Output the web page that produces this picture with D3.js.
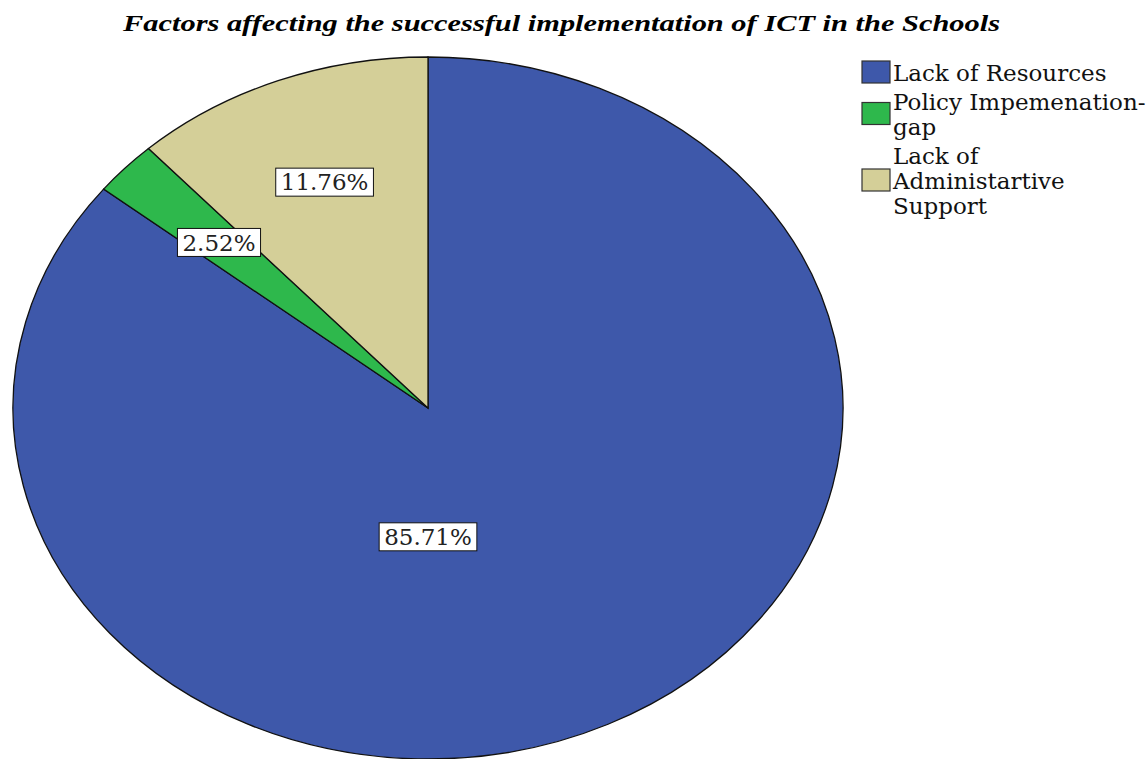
<!DOCTYPE html>
<html>
<head>
<meta charset="utf-8">
<script src="https://cdn.jsdelivr.net/npm/d3@7"></script>
<style>
body { margin: 0; background: #fff; }
svg { display: block; }
</style>
</head>
<body>
<svg></svg>
<script>
var screen = {width: 1146, height: 759};

// data
var categories = ["Lack of Resources", "Policy Impemenation-gap", "Lack of Administartive Support"];
var percents = [85.71, 2.52, 11.76];
var legendLines = [["Lack of Resources"], ["Policy Impemenation-", "gap"], ["Lack of", "Administartive", "Support"]];
var colors = ["#3e58aa", "#2eb84c", "#d4cf98"];
var title = "Factors affecting the successful implementation of ICT in the Schools";

var pie = {cx: 428, cy: 408, rx: 415, ry: 351};
var font = "'DejaVu Serif', serif";
var titleFont = "'Liberation Serif', 'DejaVu Serif', serif";

var svg = d3.select("svg")
    .attr("width", screen.width)
    .attr("height", screen.height);

svg.append("text")
    .attr("x", 123)
    .attr("y", 31)
    .attr("textLength", 877)
    .attr("lengthAdjust", "spacingAndGlyphs")
    .attr("font-family", titleFont)
    .attr("font-weight", "bold")
    .attr("font-style", "italic")
    .attr("font-size", 23)
    .text(title);

var cScale = d3.scaleOrdinal().domain(categories).range(colors);

var arcs = d3.pie().sort(null).value(function(d) { return d; })(percents);
var arcGen = d3.arc().innerRadius(0).outerRadius(pie.ry);

// pie is drawn on a circle and stretched into an ellipse
var g = svg.append("g")
    .attr("transform", "translate(" + pie.cx + "," + pie.cy + ") scale(" + (pie.rx / pie.ry) + ",1)");

g.selectAll("path")
    .data(arcs)
    .enter()
    .append("path")
    .attr("d", arcGen)
    .attr("fill", function(d, i) { return cScale(categories[i]); })
    .attr("stroke", "#111")
    .attr("stroke-width", 1.3)
    .attr("vector-effect", "non-scaling-stroke");

// labels
var labelPos = function(d) {
    var a, f;
    if (d.endAngle - d.startAngle > Math.PI) { a = Math.PI; f = 0.367; }
    else { a = (d.startAngle + d.endAngle) / 2; f = 0.69; }
    return [pie.cx + Math.sin(a) * f * pie.rx, pie.cy - Math.cos(a) * f * pie.ry];
};

var labels = svg.append("g").selectAll("g")
    .data(arcs)
    .enter()
    .append("g")
    .attr("transform", function(d) { var p = labelPos(d); return "translate(" + p[0] + "," + p[1] + ")"; });

labels.append("rect");
labels.append("text")
    .attr("text-anchor", "middle")
    .attr("dy", "0.36em")
    .attr("font-family", font)
    .attr("font-size", 23)
    .attr("fill", "#222")
    .text(function(d) { return d.data.toFixed(2) + "%"; });

labels.each(function() {
    var t = d3.select(this).select("text");
    var w = t.node().getComputedTextLength();
    d3.select(this).select("rect")
        .attr("x", -w / 2 - 5)
        .attr("y", -14)
        .attr("width", w + 10)
        .attr("height", 28)
        .attr("fill", "#fff")
        .attr("stroke", "#111")
        .attr("stroke-width", 1);
});

// legend
var legendRows = [81, 110, 164];
var lineH = 25;
var lg = svg.append("g").attr("id", "legend");

var items = lg.selectAll("g")
    .data(categories)
    .enter()
    .append("g");

items.append("rect")
    .attr("x", 862)
    .attr("y", function(d, i) { return legendRows[i] + (legendLines[i].length - 1) * lineH / 2 - 20; })
    .attr("width", 28)
    .attr("height", 22)
    .attr("fill", function(d) { return cScale(d); })
    .attr("stroke", "#333")
    .attr("stroke-width", 1.2);

items.append("text")
    .attr("y", function(d, i) { return legendRows[i]; })
    .attr("font-family", font)
    .attr("font-size", 23)
    .attr("fill", "#111")
    .selectAll("tspan")
    .data(function(d, i) { return legendLines[i]; })
    .enter()
    .append("tspan")
    .attr("x", 893)
    .attr("dy", function(d, j) { return j == 0 ? 0 : lineH; })
    .text(function(d) { return d; });
</script>
</body>
</html>
